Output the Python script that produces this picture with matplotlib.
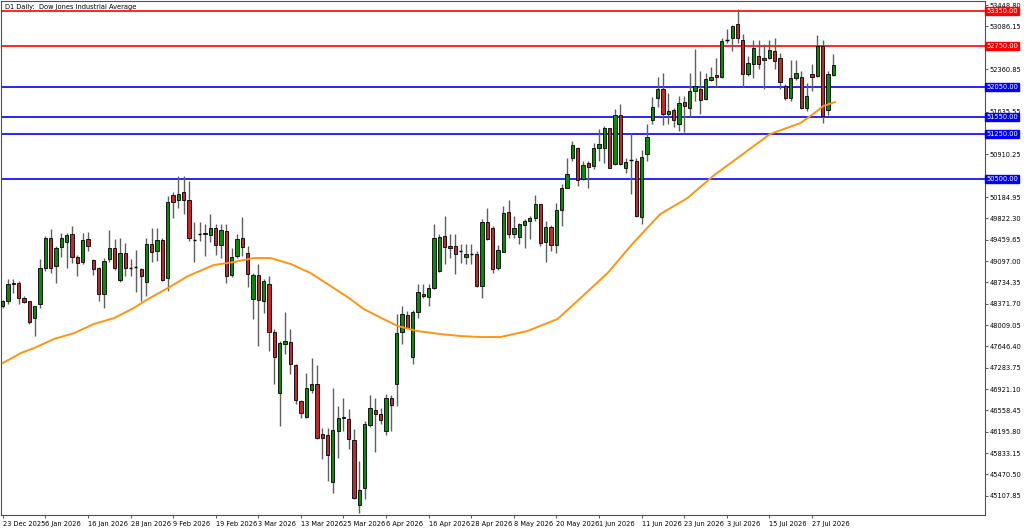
import numpy as np
import matplotlib
matplotlib.use("Agg")
import matplotlib.pyplot as plt

# daily candles, Dow Jones
opens = [48332, 48417, 48729, 48729, 48474, 48417, 48122, 48360, 48984, 49494,
         49012, 49335, 49426, 49550, 49165, 49086, 49465, 49108, 48984, 48542,
         49125, 49312, 48768, 49239, 48984, 48990, 48955, 48746, 49380, 49267,
         49448, 48802, 50219, 50128, 50276, 50134, 49454, 49550, 49580, 49539,
         49664, 49370, 49608, 48859, 49182, 49494, 49239, 48445, 48859, 48417,
         48712, 47896, 46859, 47680, 47726, 47329, 46717, 46445, 46898, 47000,
         46150, 46133, 45346, 46207, 46422, 46417, 46048, 44949, 45232, 46303,
         46558, 46490, 46207, 46774, 47000, 47896, 48173, 47470, 48236, 48542,
         48491, 48632, 48927, 49522, 49352, 49352, 49267, 49171, 49210, 49222,
         48672, 49760, 49664, 48984, 49256, 49930, 49550, 49505, 49709, 49777,
         49822, 50060, 49426, 49675, 49363, 49970, 50344, 50842, 51012, 50485,
         50769, 50712, 51012, 51012, 51352, 50740, 51579, 50672, 50814, 50797,
         49845, 50910, 51488, 51868, 52021, 51590, 51658, 51432, 51806, 51704,
         51987, 52015, 51845, 52168, 52259, 52225, 52848, 52882, 53132, 52848,
         52282, 52452, 52582, 52508, 52554, 52667, 52542, 52072, 51862, 52202,
         52225, 51692, 52270, 52242, 52752, 51658, 52259]
highs = [48440, 48785, 48785, 48757, 48502, 48417, 48332, 49125, 49522, 49635,
         49352, 49579, 49579, 49692, 49199, 49579, 49596, 49125, 48995, 49142,
         49618, 49465, 49494, 49409, 49125, 49284, 48984, 49494, 49652, 49652,
         49494, 50202, 50276, 50542, 50542, 50457, 49766, 49766, 49720, 49902,
         49720, 49720, 49720, 49324, 49550, 49845, 49352, 48899, 49052, 48785,
         48842, 47935, 47737, 48236, 47935, 47340, 46728, 47199, 47442, 47329,
         46263, 46263, 46932, 46632, 46762, 46575, 46246, 45697, 46377, 46813,
         46762, 46604, 46830, 46819, 48190, 48332, 48247, 48258, 48712, 48712,
         48700, 49732, 49550, 49862, 49550, 49550, 49392, 49392, 49392, 49267,
         49805, 50004, 49692, 49369, 50032, 50134, 49862, 49749, 49805, 49862,
         50219, 50072, 49777, 49709, 50089, 50400, 50854, 51137, 51035, 50797,
         50797, 51109, 51335, 51392, 51364, 51675, 51760, 50854, 51279, 50854,
         50978, 51420, 51885, 52225, 52293, 51959, 51704, 51902, 51902, 52299,
         52695, 52327, 52299, 52395, 52554, 52894, 53035, 53109, 53375, 52950,
         52582, 52848, 52848, 52780, 52848, 52882, 52639, 52100, 52508, 52508,
         52327, 52129, 52440, 52939, 52848, 52327, 52610]
lows = [48300, 48360, 48559, 48372, 48389, 48032, 47822, 48304, 48927, 48899,
        48729, 49165, 48972, 49069, 48842, 49052, 49267, 48859, 48417, 48292,
        49086, 48940, 48746, 48842, 48842, 48576, 48417, 48502, 49086, 49097,
        48757, 48587, 49834, 50004, 49890, 49437, 49086, 49437, 49182, 49426,
        49199, 49142, 48729, 48825, 49142, 49182, 48655, 48105, 47652, 48219,
        47567, 47000, 46292, 47510, 47170, 46660, 46422, 46422, 46859, 46065,
        45725, 45357, 45159, 45753, 46207, 45895, 45045, 44818, 45056, 46275,
        45856, 46331, 46133, 46207, 46632, 47680, 47952, 47340, 48134, 48462,
        48332, 48615, 48916, 49052, 49154, 48882, 49069, 49040, 49040, 48655,
        48462, 49454, 48899, 48938, 49256, 49494, 49494, 49380, 49312, 49465,
        49777, 49352, 49086, 49267, 49227, 49692, 50332, 50797, 50372, 50468,
        50332, 50655, 50797, 50769, 50684, 50729, 50729, 50599, 50230, 49845,
        49720, 50797, 51426, 51715, 51409, 51420, 51375, 51307, 51296, 51545,
        51817, 51602, 51828, 52157, 52055, 52202, 52809, 52667, 52809, 52055,
        52242, 52214, 52355, 52015, 52525, 52355, 52015, 51828, 51817, 52168,
        51675, 51647, 51987, 52225, 51449, 51579, 52242]
closes = [48417, 48700, 48700, 48474, 48406, 48066, 48332, 48972, 49494, 48984,
          49324, 49482, 49539, 49165, 49069, 49454, 49352, 48955, 48542, 49097,
          49312, 48984, 49239, 48972, 48990, 48984, 48842, 49380, 49256, 49448,
          48768, 50106, 50106, 50242, 50128, 49494, 49450, 49545, 49555, 49652,
          49370, 49618, 48842, 49165, 49465, 49335, 48870, 48859, 48428, 48757,
          47896, 47470, 47697, 47737, 47352, 46728, 46518, 46932, 47000, 46093,
          46082, 45799, 46218, 46422, 46445, 46065, 45073, 45198, 46331, 46592,
          46501, 46388, 46774, 46649, 47879, 48190, 47964, 48236, 48576, 48502,
          48632, 49482, 49505, 49335, 49324, 49210, 49262, 49210, 49215, 48672,
          49766, 49465, 48955, 49284, 49907, 49550, 49652, 49720, 49777, 49822,
          50072, 49409, 49675, 49363, 49964, 50332, 50570, 51069, 50468, 50729,
          50695, 51012, 51080, 51364, 50684, 51579, 50740, 50780, 50810, 49862,
          50865, 51205, 51715, 52021, 51596, 51647, 51488, 51789, 51732, 51987,
          52072, 51828, 52185, 52225, 52225, 52837, 52852, 53092, 52882, 52282,
          52469, 52712, 52452, 52554, 52678, 52497, 52145, 51862, 52202, 52299,
          51692, 51902, 52225, 52752, 51562, 52282, 52429]

# moving average (orange) read at a few bars
ma_bar = [0, 3.4, 5.9, 9.6, 13.4, 17.1, 20.9, 24.6, 27.3, 31.0, 34.8, 39.6, 43.4,
          47.1, 50.3, 54.1, 57.8, 61.6, 65.3, 67.8, 71.5, 74.2, 77.9, 82.2, 86.0,
          89.7, 93.5, 98.5, 104.2, 107.9, 113.6, 118.4, 123.5, 128.6, 133.4,
          138.5, 144.1, 149.8, 152.2, 154.1, 156.3]
ma_val = [47363, 47533, 47618, 47771, 47873, 48026, 48128, 48298, 48451, 48638,
          48842, 49029, 49080, 49148, 49148, 49046, 48893, 48672, 48451, 48281,
          48111, 47992, 47907, 47856, 47822, 47805, 47805, 47907, 48111, 48417,
          48893, 49403, 49896, 50168, 50542, 50882, 51256, 51443, 51596, 51732,
          51800]

levels = [53350, 52750, 52050, 51550, 51250, 50500]
level_colors = ['#ff0000', '#ff0000', '#0000ff', '#0000ff', '#0000ff', '#0000ff']

date_labels = ['23 Dec 2025', '6 Jan 2026', '16 Jan 2026', '28 Jan 2026', '9 Feb 2026',
               '19 Feb 2026', '3 Mar 2026', '13 Mar 2026', '25 Mar 2026', '6 Apr 2026',
               '16 Apr 2026', '28 Apr 2026', '8 May 2026', '20 May 2026', '1 Jun 2026',
               '11 Jun 2026', '23 Jun 2026', '3 Jul 2026', '15 Jul 2026', '27 Jul 2026']
price_ticks = [53448.80, 53086.15, 52360.85, 51635.55, 50910.25, 50184.95, 49822.30,
               49459.65, 49097.00, 48734.35, 48371.70, 48009.05, 47646.40, 47283.75,
               46921.10, 46558.45, 46195.80, 45833.15, 45470.50, 45107.85]

fig = plt.figure(figsize=(10.24, 5.30), dpi=100)
ax = fig.add_axes([0.001, 0.028, 0.961, 0.970])

o = np.array(opens); h = np.array(highs); l = np.array(lows); c = np.array(closes)
idx = np.arange(len(o))
ax.vlines(idx, l, h, color='#606060', lw=1, zorder=2)
up = c >= o
bw = 0.62
for i in idx:
    lo, hi = min(o[i], c[i]), max(o[i], c[i])
    if hi - lo < 12:
        ax.hlines(o[i], i - bw / 2, i + bw / 2, color='black', lw=1, zorder=3)
        continue
    col = '#0a8a0a' if up[i] else '#c0282a'
    ax.bar(i, hi - lo, bottom=lo, width=bw, color=col, edgecolor='black', lw=0.6, zorder=3)

ax.plot(ma_bar, ma_val, color='#ff9510', lw=1.4, zorder=4)

for lv, col in zip(levels, level_colors):
    ax.axhline(lv, color=col, lw=1.2, zorder=1)
    ax.text(1.001, lv, f'{lv:.2f}', transform=ax.get_yaxis_transform(), fontsize=4.8,
            color='white', va='center', ha='left', clip_on=False, zorder=10,
            bbox=dict(boxstyle='square,pad=0.15', fc=col, ec=col))

ax.set_xlim(-0.32, 184.5)
ax.set_ylim(44777, 53517)
ax.yaxis.tick_right()
ax.set_yticks(price_ticks)
ax.set_yticklabels([f'{p:.2f}' for p in price_ticks])
ax.set_xticks(np.arange(len(date_labels)) * 8)
ax.set_xticklabels(date_labels, ha='left')
ax.tick_params(axis='both', labelsize=4.8, length=2.5, width=0.6, color='#404040', pad=1)
ax.tick_params(axis='x', pad=2)
for s in ax.spines.values():
    s.set_color('#505050')
    s.set_linewidth(0.8)

ax.text(0.004, 0.995, 'D1 Daily:  Dow Jones Industrial Average', transform=ax.transAxes,
        fontsize=4.8, va='top', ha='left')

fig.savefig('out.png', dpi=100)
